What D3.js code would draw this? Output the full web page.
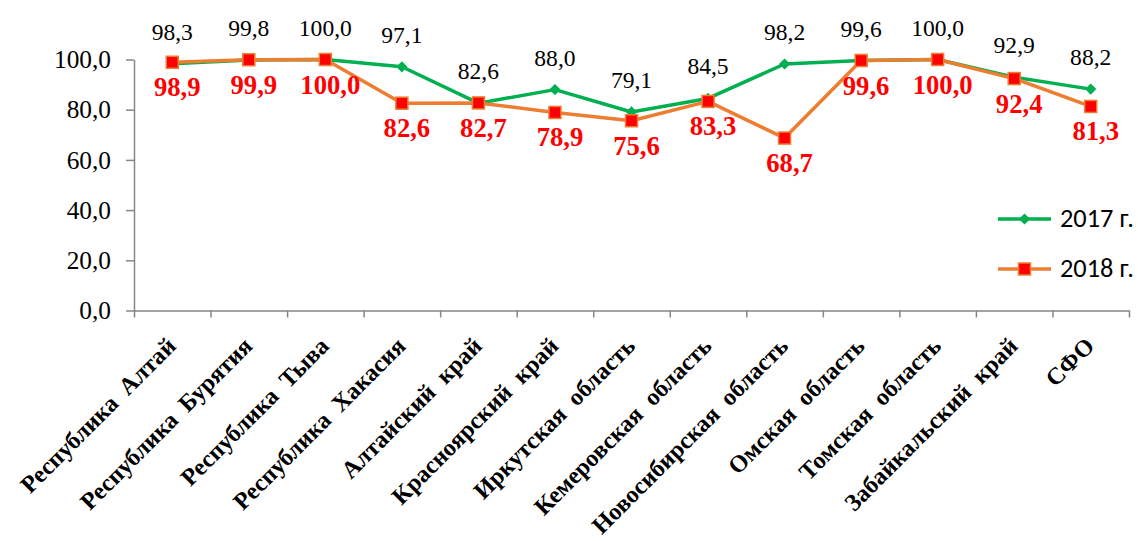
<!DOCTYPE html>
<html>
<head>
<meta charset="utf-8">
<script src="https://cdn.jsdelivr.net/npm/d3@7/dist/d3.min.js"></script>
<style>
  body { margin: 0; background: #fff; }
  svg { display: block; }
</style>
</head>
<body>
<svg id="chart" width="1138" height="541"></svg>
<script>
// Регионы СФО и значения показателя, %
const regions = [
  "Республика  Алтай",
  "Республика  Бурятия",
  "Республика  Тыва",
  "Республика  Хакасия",
  "Алтайский  край",
  "Красноярский  край",
  "Иркутская  область",
  "Кемеровская  область",
  "Новосибирская  область",
  "Омская  область",
  "Томская  область",
  "Забайкальский  край",
  "СФО"
];
const values2017 = [98.3, 99.8, 100.0, 97.1, 82.6, 88.0, 79.1, 84.5, 98.2, 99.6, 100.0, 92.9, 88.2];
const values2018 = [98.9, 99.9, 100.0, 82.6, 82.7, 78.9, 75.6, 83.3, 68.7, 99.6, 100.0, 92.4, 81.3];
const yTicks = [0, 20, 40, 60, 80, 100];
const seriesNames = ["2017 г.", "2018 г."];

// Подбор шрифтов: первый установленный из списка
const ctx = document.createElement("canvas").getContext("2d");
function hasFont(name) {
  const probe = "Республика 100,0 mmmWWiil";
  for (const base of ["monospace", "sans-serif", "serif"]) {
    ctx.font = `72px ${base}`;
    const w0 = ctx.measureText(probe).width;
    ctx.font = `72px "${name}", ${base}`;
    if (ctx.measureText(probe).width !== w0) return true;
  }
  return false;
}
const pick = (list, fallback) => list.find(hasFont) || fallback;
const serifFamily = pick(["Liberation Serif", "Times New Roman", "Tinos", "Nimbus Roman", "FreeSerif", "DejaVu Serif", "Noto Serif"], "Liberation Sans");
const sansFamily = pick(["Carlito", "Calibri", "Open Sans", "Liberation Sans"], "sans-serif");

// Кегль, при котором строка имеет заданную ширину
function fitSize(text, family, weight, width) {
  ctx.font = `${weight} 100px "${family}"`;
  return 100 * width / ctx.measureText(text).width;
}
const tickSize = fitSize("100,0", serifFamily, "normal", 57);
const labelSize = fitSize("100,0", serifFamily, "normal", 53);
const boldLabelSize = fitSize("100,0", serifFamily, "bold", 60);
const categorySize = fitSize("Республика  Алтай", serifFamily, "bold", 208);
const legendSize = fitSize("2017 г.", sansFamily, "normal", 74);

const svg = d3.select("#chart");
const plot = { left: 134, right: 1129, top: 59.5, bottom: 310.5 };

const x = d3.scaleBand().domain(regions).range([plot.left, plot.right]);
const xEdge = d3.scaleLinear().domain([0, regions.length]).range([plot.left, plot.right]);
const y = d3.scaleLinear().domain([0, 100]).range([plot.bottom, plot.top]);
const cx = d => x(d) + x.bandwidth() / 2;
const fmt = v => d3.format(".1f")(v).replace(".", ",");

const axisColor = "#868686";

// Ось Y
const yAxis = svg.append("g")
  .attr("transform", `translate(${plot.left},0)`)
  .call(d3.axisLeft(y).tickValues(yTicks).tickFormat(fmt).tickSize(8).tickPadding(15).tickSizeOuter(0));
yAxis.attr("font-family", null).attr("font-size", null);
yAxis.select(".domain").attr("stroke", axisColor).attr("stroke-width", 1.5);
yAxis.selectAll(".tick line").attr("stroke", axisColor).attr("stroke-width", 1.5);
yAxis.selectAll(".tick text")
  .style("font-family", `"${serifFamily}"`)
  .style("font-size", `${tickSize}px`)
  .attr("fill", "#000");

// Ось X: деления на границах категорий
const xAxis = svg.append("g")
  .attr("transform", `translate(0,${plot.bottom})`)
  .call(d3.axisBottom(xEdge).tickValues(d3.range(regions.length + 1)).tickFormat("").tickSize(7).tickSizeOuter(0));
xAxis.select(".domain").attr("stroke", axisColor).attr("stroke-width", 1.5);
xAxis.selectAll(".tick line").attr("stroke", axisColor).attr("stroke-width", 1.5);

// Подписи категорий под углом 45°
svg.append("g").selectAll("text")
  .data(regions)
  .join("text")
  .attr("transform", d => `translate(${cx(d) + 5},${plot.bottom + 37}) rotate(-45)`)
  .attr("text-anchor", "end")
  .style("font-family", `"${serifFamily}"`)
  .style("font-weight", "bold")
  .style("font-size", `${categorySize}px`)
  .style("white-space", "pre")
  .attr("fill", "#000")
  .text(d => d);

const green = "#00B050";
const orange = "#ED7D31";
const red = "#FF0000";

const line = d3.line().x((v, i) => cx(regions[i])).y(v => y(v));

// Серия 2017 г.
svg.append("path")
  .datum(values2017)
  .attr("d", line)
  .attr("fill", "none")
  .attr("stroke", green)
  .attr("stroke-width", 3.5)
  .attr("stroke-linejoin", "round");

const diamond = d3.symbol().type(d3.symbolDiamond2).size(80);
svg.append("g").selectAll("path")
  .data(values2017)
  .join("path")
  .attr("d", diamond)
  .attr("transform", (v, i) => `translate(${cx(regions[i])},${y(v)})`)
  .attr("fill", green);

// Серия 2018 г.
svg.append("path")
  .datum(values2018)
  .attr("d", line)
  .attr("fill", "none")
  .attr("stroke", orange)
  .attr("stroke-width", 3.5)
  .attr("stroke-linejoin", "round");

svg.append("g").selectAll("rect")
  .data(values2018)
  .join("rect")
  .attr("x", (v, i) => cx(regions[i]) - 6)
  .attr("y", v => y(v) - 6)
  .attr("width", 12)
  .attr("height", 12)
  .attr("fill", red)
  .attr("stroke", orange)
  .attr("stroke-width", 1.5);

// Подписи значений
svg.append("g").selectAll("text")
  .data(values2017)
  .join("text")
  .attr("x", (v, i) => cx(regions[i]))
  .attr("y", v => y(v) - 24)
  .attr("text-anchor", "middle")
  .style("font-family", `"${serifFamily}"`)
  .style("font-size", `${labelSize}px`)
  .attr("fill", "#000")
  .text(fmt);

svg.append("g").selectAll("text")
  .data(values2018)
  .join("text")
  .attr("x", (v, i) => cx(regions[i]) + 5)
  .attr("y", v => y(v) + 34)
  .attr("text-anchor", "middle")
  .style("font-family", `"${serifFamily}"`)
  .style("font-weight", "bold")
  .style("font-size", `${boldLabelSize}px`)
  .attr("fill", red)
  .text(fmt);

// Легенда
const legend = svg.append("g").attr("transform", "translate(998,0)");
const legendRows = [
  { name: seriesNames[0], color: green, y: 219, marker: "diamond" },
  { name: seriesNames[1], color: orange, y: 269, marker: "square" }
];
legendRows.forEach(r => {
  legend.append("line")
    .attr("x1", 0).attr("x2", 53).attr("y1", r.y).attr("y2", r.y)
    .attr("stroke", r.color).attr("stroke-width", 3.5);
  if (r.marker === "diamond") {
    legend.append("path").attr("d", diamond)
      .attr("transform", `translate(26.5,${r.y})`).attr("fill", green);
  } else {
    legend.append("rect")
      .attr("x", 20.5).attr("y", r.y - 6).attr("width", 12).attr("height", 12)
      .attr("fill", red).attr("stroke", orange).attr("stroke-width", 1.5);
  }
  legend.append("text")
    .attr("x", 62).attr("y", r.y + 8)
    .style("font-family", `"${sansFamily}"`)
    .style("font-size", `${legendSize}px`)
    .attr("fill", "#000")
    .text(r.name);
});
</script>
</body>
</html>
